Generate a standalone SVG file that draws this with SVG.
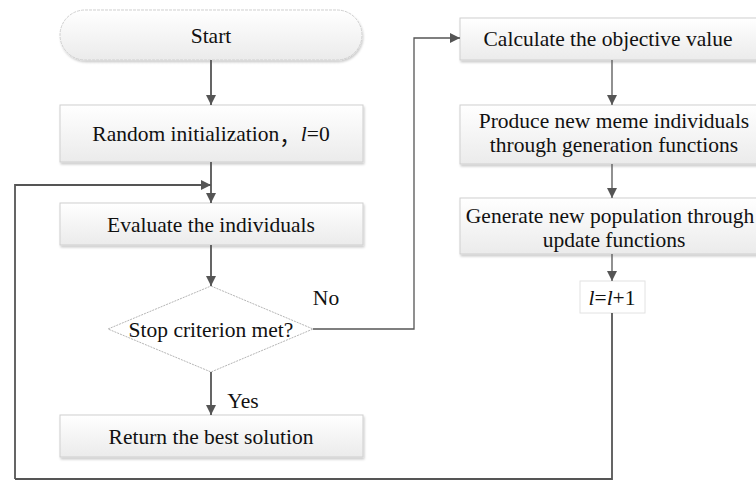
<svg xmlns="http://www.w3.org/2000/svg" width="756" height="481" viewBox="0 0 756 481">
  <defs>
    <linearGradient id="boxFill" x1="0" y1="0" x2="0" y2="1">
      <stop offset="0" stop-color="#ffffff"/>
      <stop offset="1" stop-color="#ebebeb"/>
    </linearGradient>
    <filter id="shadow" x="-5%" y="-10%" width="110%" height="130%">
      <feDropShadow dx="1" dy="2" stdDeviation="1" flood-color="#000" flood-opacity="0.2"/>
    </filter>
    <marker id="arrow" viewBox="0 0 10 10" refX="10" refY="5" markerWidth="10" markerHeight="10" markerUnits="userSpaceOnUse" orient="auto">
      <path d="M0,0 L10,5 L0,10 z" fill="#555"/>
    </marker>
  </defs>
  <style>
    .box { fill: url(#boxFill); stroke: #cfcfcf; stroke-width: 1; filter: url(#shadow); }
    .lbl { font-family: "Liberation Serif", Tinos, "Times New Roman", "DejaVu Serif", serif; font-size: 21.5px; fill: #111; text-anchor: middle; dominant-baseline: central; }
    .cjk { font-family: "Noto Sans CJK SC", sans-serif; }
    .conn { fill: none; stroke: #555; stroke-width: 1.8; }
    .thin { stroke-width: 1.3; }
  </style>
  <rect width="756" height="481" fill="#ffffff"/>

  <g id="start">
    <rect class="box" x="60" y="10" width="302" height="50" rx="25" ry="25" stroke-dasharray="3 1"/>
    <text class="lbl" x="211" y="36">Start</text>
  </g>

  <g id="init">
    <rect class="box" x="60" y="105" width="303" height="57"/>
    <text class="lbl" x="211" y="134">Random initialization<tspan class="cjk">，</tspan><tspan font-style="italic">l</tspan>=0</text>
  </g>

  <g id="evaluate">
    <rect class="box" x="60" y="203" width="303" height="42"/>
    <text class="lbl" x="211" y="225">Evaluate the individuals</text>
  </g>

  <g id="decision">
    <polygon points="211,286 313,329 211,372 108,329" fill="#ffffff" stroke="#b5b5b5" stroke-width="1" stroke-dasharray="2 1"/>
    <text class="lbl" x="211" y="330">Stop criterion met?</text>
  </g>

  <g id="result">
    <rect class="box" x="60" y="415" width="303" height="42"/>
    <text class="lbl" x="211" y="437">Return the best solution</text>
  </g>

  <g id="objective">
    <rect class="box" x="460" y="18" width="310" height="42"/>
    <text class="lbl" x="608" y="39">Calculate the objective value</text>
  </g>

  <g id="produce">
    <rect class="box" x="460" y="105" width="310" height="59"/>
    <text class="lbl" x="614" y="121">Produce new meme individuals</text>
    <text class="lbl" x="614" y="145">through generation functions</text>
  </g>

  <g id="generate">
    <rect class="box" x="460" y="198" width="310" height="56"/>
    <text class="lbl" x="610" y="216">Generate new population through</text>
    <text class="lbl" x="614" y="240">update functions</text>
  </g>

  <g id="increment">
    <rect x="580" y="281" width="65" height="32" fill="#ffffff" stroke="#e2e2e2" stroke-width="1"/>
    <text class="lbl" x="612" y="298"><tspan font-style="italic">l</tspan>=<tspan font-style="italic">l</tspan>+1</text>
  </g>

  <g id="connectors">
    <path class="conn" d="M211,60 V105" marker-end="url(#arrow)"/>
    <path class="conn" d="M211,162 V203" marker-end="url(#arrow)"/>
    <path class="conn" d="M211,245 V286" marker-end="url(#arrow)"/>
    <path class="conn" d="M211,372 V415" marker-end="url(#arrow)"/>
    <path class="conn" d="M15,479 V185 H211" marker-end="url(#arrow)"/>
    <path class="conn" d="M612,313 V479 H15"/>
    <path class="conn thin" d="M313,329 H414 V38 H460" marker-end="url(#arrow)"/>
    <path class="conn thin" d="M612,60 V105" marker-end="url(#arrow)"/>
    <path class="conn thin" d="M612,164 V198" marker-end="url(#arrow)"/>
    <path class="conn thin" d="M612,254 V281" marker-end="url(#arrow)"/>
    <text class="lbl" x="326" y="298">No</text>
    <text class="lbl" x="243" y="401">Yes</text>
  </g>
</svg>
